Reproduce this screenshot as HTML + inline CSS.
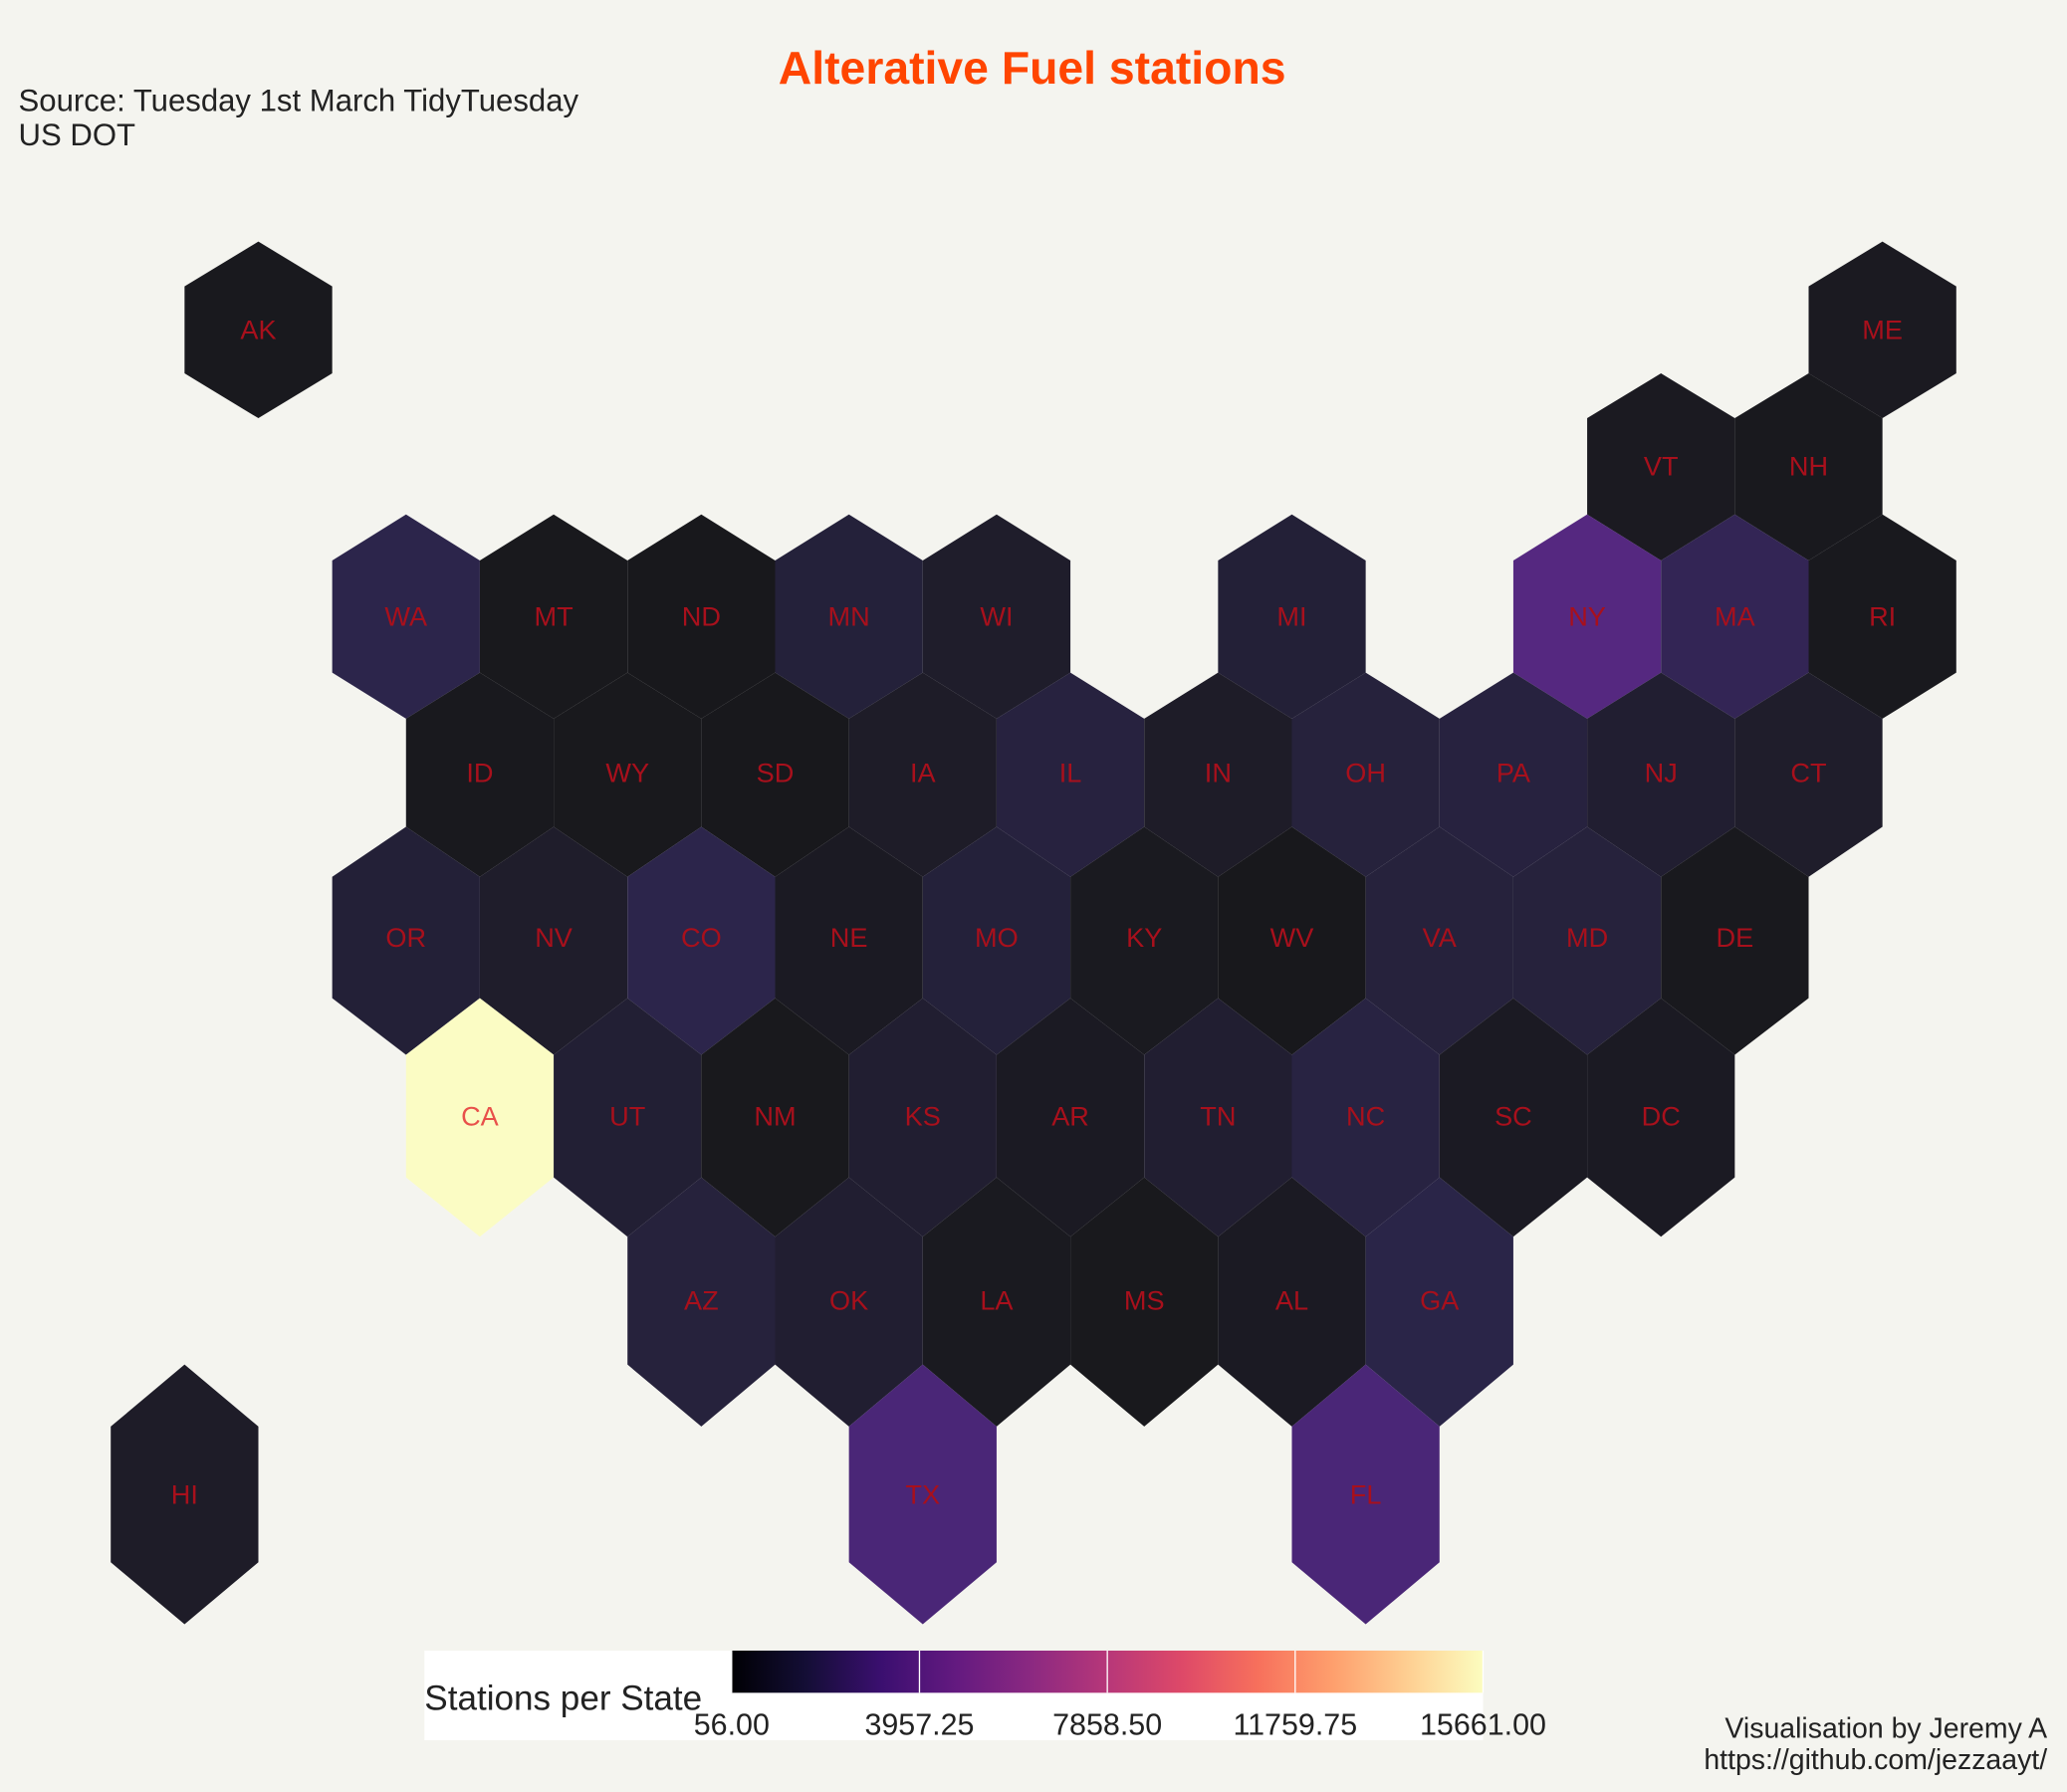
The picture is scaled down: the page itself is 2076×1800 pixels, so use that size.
<!DOCTYPE html>
<html><head><meta charset="utf-8"><style>
html,body{margin:0;padding:0;background:#f4f4ef;}
svg{display:block;font-family:"Liberation Sans",Arial,sans-serif;}
</style></head><body>
<svg id="chart" width="2076" height="1800" viewBox="0 0 1568 1359">
<rect x="0" y="0" width="1568" height="1359" fill="#f4f4ef"/>
<text x="783" y="63" text-anchor="middle" font-size="35" font-weight="bold" fill="#ff4500">Alterative Fuel stations</text>
<text x="14" y="84" font-size="23.5" fill="#222">Source: Tuesday 1st March TidyTuesday</text>
<text x="14" y="110" font-size="23.5" fill="#222">US DOT</text>
<g id="hexes"></g>
<g>
<defs><linearGradient id="mag" x1="0" x2="1" y1="0" y2="0">
<stop offset="0" stop-color="#000004"/><stop offset="0.1" stop-color="#140e36"/><stop offset="0.2" stop-color="#3b0f70"/><stop offset="0.3" stop-color="#641a80"/><stop offset="0.4" stop-color="#8c2981"/><stop offset="0.5" stop-color="#b73779"/><stop offset="0.6" stop-color="#de4968"/><stop offset="0.7" stop-color="#f7705c"/><stop offset="0.8" stop-color="#fe9f6d"/><stop offset="0.9" stop-color="#fecf92"/><stop offset="1" stop-color="#fcfdbf"/>
</linearGradient></defs>
<rect x="322" y="1252" width="803" height="68" fill="#fff"/>
<rect x="555" y="1252" width="570" height="32" fill="url(#mag)"/>
<text x="322" y="1297" font-size="26.5" fill="#222">Stations per State</text>
<g id="legticks"></g>
</g>
<text x="1553" y="1318" text-anchor="end" font-size="21.5" fill="#222">Visualisation by Jeremy A</text>
<text x="1553" y="1342" text-anchor="end" font-size="21.5" fill="#222">https://github.com/jezzaayt/</text>
</svg>
<script>
const states = ["AK","ME","VT","NH","WA","MT","ND","MN","WI","MI","NY","MA","RI","ID","WY","SD","IA","IL","IN","OH","PA","NJ","CT","OR","NV","CO","NE","MO","KY","WV","VA","MD","DE","CA","UT","NM","KS","AR","TN","NC","SC","DC","AZ","OK","LA","MS","AL","GA","HI","TX","FL"];
const stations = [150,250,250,150,1700,100,60,1100,600,1000,3500,2000,150,150,100,60,500,1300,500,1200,1300,800,600,1000,600,1700,300,1100,200,60,1200,1200,150,15661,900,100,800,300,800,1400,300,300,1200,800,200,100,300,1600,500,3000,3000];
const hexRow = [0,0,1,1,2,2,2,2,2,2,2,2,2,3,3,3,3,3,3,3,3,3,3,4,4,4,4,4,4,4,4,4,4,5,5,5,5,5,5,5,5,5,6,6,6,6,6,6,7,7,7];
const hexCol = [1,12,10.5,11.5,2,3,4,5,6,8,10,11,12,2.5,3.5,4.5,5.5,6.5,7.5,8.5,9.5,10.5,11.5,2,3,4,5,6,7,8,9,10,11,2.5,3.5,4.5,5.5,6.5,7.5,8.5,9.5,10.5,4,5,6,7,8,9,0.5,5.5,8.5];
const legendTicks = [56.00,3957.25,7858.50,11759.75,15661.00];
const vmin = 56, vmax = 15661;

const rowLevels = [[183,217,283,317],[283,317,390,425],[390,425,510,545],[510,545,627,665],[627,665,757,800],[757,800,893,938],[893,938,1035,1082],[1035,1082,1185,1232]];
const xOf = c => 84 + c*112;
const stops = [[0,0,4],[20,14,54],[59,15,112],[100,26,128],[140,41,129],[183,55,121],[222,73,104],[247,112,92],[254,159,109],[254,207,146],[252,253,191]];
const bg=[244,244,239], alpha=0.9;
function magma(t){t=Math.max(0,Math.min(1,t));const p=t*10,i=Math.min(9,Math.floor(p)),f=p-i;
 const c=stops[i].map((v,k)=>v+(stops[i+1][k]-v)*f).map((v,k)=>Math.round(v*alpha+bg[k]*(1-alpha)));
 return `rgb(${c[0]},${c[1]},${c[2]})`;}
const scale = v => (v - vmin)/(vmax - vmin);
const NS="http://www.w3.org/2000/svg", g=document.getElementById('hexes');
states.forEach((s,i)=>{
 const cx=xOf(hexCol[i]), L=rowLevels[hexRow[i]];
 const poly=document.createElementNS(NS,'polygon');
 poly.setAttribute('points',`${cx},${L[0]} ${cx+56},${L[1]} ${cx+56},${L[2]} ${cx},${L[3]} ${cx-56},${L[2]} ${cx-56},${L[1]}`);
 poly.setAttribute('fill',magma(scale(stations[i])));
 
 
 g.appendChild(poly);
 const t=document.createElementNS(NS,'text');
 t.setAttribute('x',cx);t.setAttribute('y',(L[1]+L[2])/2+7);
 t.setAttribute('text-anchor','middle');t.setAttribute('font-size','20.5');
 t.setAttribute('fill',scale(stations[i])>0.8?'#e8504a':'#a8101c');
 t.textContent=s;
 
 
 g.appendChild(t);
});
const lt=document.getElementById('legticks');
legendTicks.forEach(v=>{
 const x=555+570*scale(v);
 const ln=document.createElementNS(NS,'line');
 ln.setAttribute('x1',x);ln.setAttribute('x2',x);ln.setAttribute('y1',1252);ln.setAttribute('y2',1284);
 ln.setAttribute('stroke','#fff');ln.setAttribute('stroke-width','1');
 
 
 lt.appendChild(ln);
 const t=document.createElementNS(NS,'text');
 t.setAttribute('x',x);t.setAttribute('y',1316);t.setAttribute('text-anchor','middle');
 t.setAttribute('font-size','23');t.setAttribute('fill','#222');
 t.textContent=v.toFixed(2);
 
 
 lt.appendChild(t);
});
</script>
</body></html>
